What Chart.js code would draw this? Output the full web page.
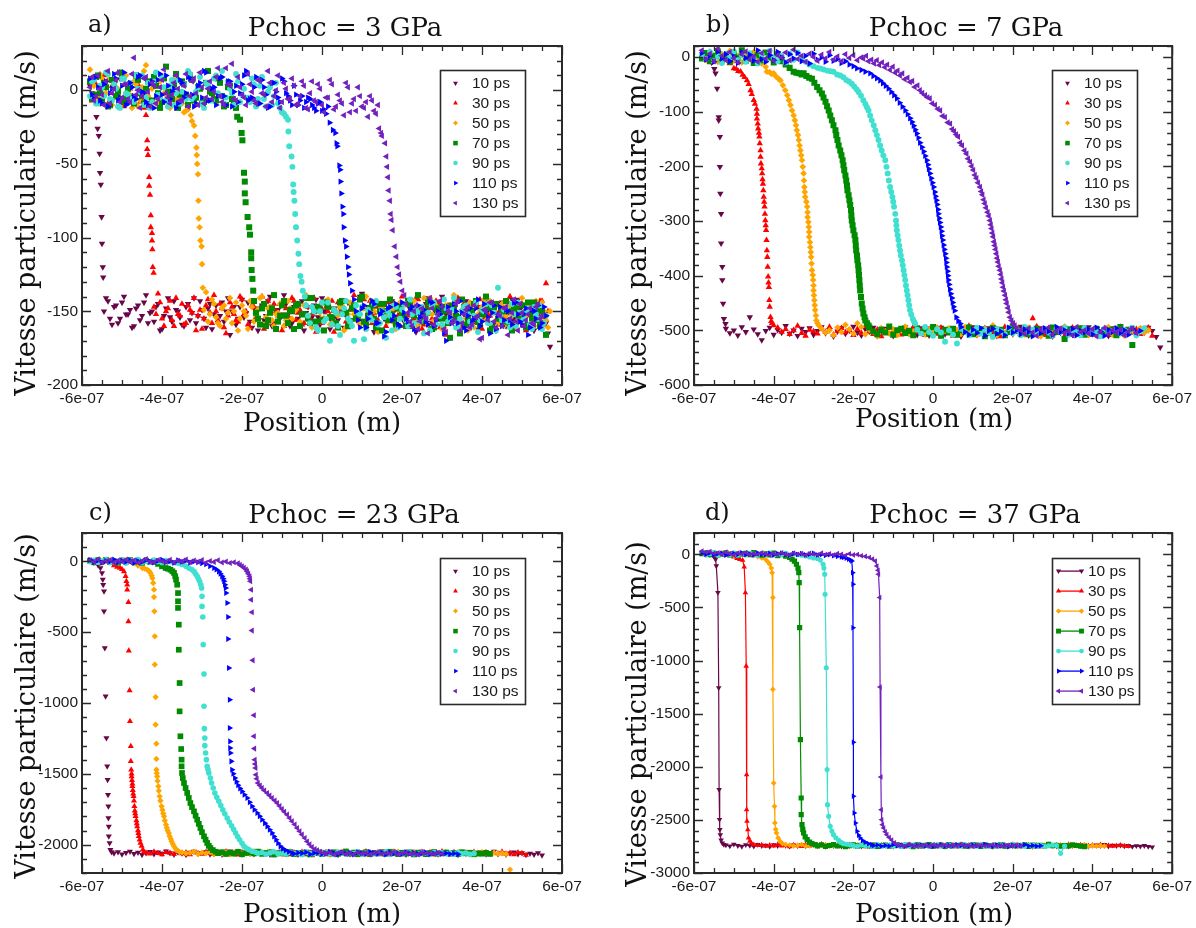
<!DOCTYPE html>
<html><head><meta charset="utf-8">
<script src="https://cdn.jsdelivr.net/npm/chart.js"></script>
<style>
html,body{margin:0;padding:0;background:#fff;}
#wrap{position:relative;width:1196px;height:928px;overflow:hidden;background:#fff;}
canvas{position:absolute;}
.t{position:absolute;font-family:"DejaVu Serif",serif;color:#111;white-space:nowrap;line-height:1;}
.tt{font-size:26px;transform:translateX(-50%);}
.lt{font-size:24px;}
.xt{font-size:26px;transform:translateX(-50%);}
.yt{font-size:27px;transform:translate(-50%,-50%) rotate(-90deg);}
</style></head><body><div id="wrap">
<canvas id="ca" width="598" height="464" style="left:0;top:0"></canvas>
<canvas id="cb" width="598" height="464" style="left:598px;top:0"></canvas>
<canvas id="cc" width="598" height="464" style="left:0;top:464px"></canvas>
<canvas id="cd" width="598" height="464" style="left:598px;top:464px"></canvas>
<div class="t lt" style="left:88px;top:12px">a)</div>
<div class="t tt" style="left:345px;top:14px">Pchoc = 3 GPa</div>
<div class="t lt" style="left:706px;top:12px">b)</div>
<div class="t tt" style="left:966px;top:14px">Pchoc = 7 GPa</div>
<div class="t lt" style="left:89px;top:500px">c)</div>
<div class="t tt" style="left:354px;top:501px">Pchoc = 23 GPa</div>
<div class="t lt" style="left:705px;top:500px">d)</div>
<div class="t tt" style="left:975px;top:501px">Pchoc = 37 GPa</div>
<div class="t xt" style="left:322px;top:409px">Position (m)</div>
<div class="t xt" style="left:934px;top:405px">Position (m)</div>
<div class="t xt" style="left:322px;top:900px">Position (m)</div>
<div class="t xt" style="left:934px;top:900px">Position (m)</div>
<div class="t yt" style="left:25px;top:223px">Vitesse particulaire (m/s)</div>
<div class="t yt" style="left:636px;top:223px">Vitesse particulaire (m/s)</div>
<div class="t yt" style="left:25px;top:706px">Vitesse particulaire (m/s)</div>
<div class="t yt" style="left:636px;top:714px">Vitesse particulaire (m/s)</div>
</div>
<script>
// ---------- common data ----------
const seriesLabels = ['10 ps','30 ps','50 ps','70 ps','90 ps','110 ps','130 ps'];
const xTickValues = [-600,-400,-200,0,200,400,600];           // position in nm
const xTickLabels = ['-6e-07','-4e-07','-2e-07','0','2e-07','4e-07','6e-07'];
const yTicksA = [-200,-150,-100,-50,0];
const yTicksB = [-600,-500,-400,-300,-200,-100,0];
const yTicksC = [-2000,-1500,-1000,-500,0];
const yTicksD = [-3000,-2500,-2000,-1500,-1000,-500,0];
// sampling positions (nm) of the flat parts of each profile
const gridX = [-580,-570,-560,-550,-540,-530,-520,-510,-500,-490,
-480,-470,-460,-450,-440,-430,-420,-410,-400,-390,
-380,-370,-360,-350,-340,-330,-320,-310,-300,-290,
-280,-270,-260,-250,-240,-230,-220,-210,-200,-190,
-180,-170,-160,-150,-140,-130,-120,-110,-100,-90,
-80,-70,-60,-50,-40,-30,-20,-10,0,10,
20,30,40,50,60,70,80,90,100,110,
120,130,140,150,160,170,180,190,200,210,
220,230,240,250,260,270,280,290,300,310,
320,330,340,350,360,370,380,390,400,410,
420,430,440,450,460,470,480,490,500,510,
520,530,540,550,560,570];
// second row of sampling positions (panel a is sampled twice as densely)
const gridXh = [-575,-565,-555,-545,-535,-525,-515,-505,-495,-485,
-475,-465,-455,-445,-435,-425,-415,-405,-395,-385,
-375,-365,-355,-345,-335,-325,-315,-305,-295,-285,
-275,-265,-255,-245,-235,-225,-215,-205,-195,-185,
-175,-165,-155,-145,-135,-125,-115,-105,-95,-85,
-75,-65,-55,-45,-35,-25,-15,-5,5,15,
25,35,45,55,65,75,85,95,105,115,
125,135,145,155,165,175,185,195,205,215,
225,235,245,255,265,275,285,295,305,315,
325,335,345,355,365,375,385,395,405,415,
425,435,445,455,465,475,485,495,505,515,
525,535,545,555,565,575];

// ---------- panel a (3 GPa) ----------
const a10U=[3,-6];
const a10FX=[-566,-564,-561,-558,-556,-555,-553,-551,-550,-548,-547];
const a10FY=[-8,-18,-26,-31,-43,-56,-64,-86,-104,-120,-127];
const a10L=[-141,-155,-147,-158,-144,-152,-149,-160,-146,-153,
-139,-151,-157,-145,-162,-148,-154,-143,-150,-159,
-147,-156,-141,-153,-149,-161,-145,-152,-158,-144,
-150,-166,-147,-155,-142,-151,-157,-148,-163,-146,
-153,-140,-158,-149,-152,-145,-160,-147,-155,-143,
-151,-158,-146,-154,-141,-150,-162,-148,-156,-144,
-153,-159,-147,-151,-138,-157,-149,-164,-145,-152,
-156,-143,-150,-160,-147,-154,-142,-158,-149,-153,
-145,-161,-148,-155,-140,-152,-157,-146,-159,-150,
-143,-156,-149,-162,-147,-153,-145,-158,-151,-144,
-160,-148,-155,-142,-157,-150,-146,-163,-152,-149,
-158,-174];
const a10U2=[-2];
const a10L2=[-150,-143,-159,-146,-155,-140,-152,-161,-148,-156,
-144,-158,-150,-147,-163,-153,-141,-157,-149,-154,
-160,-145,-151,-158,-143,-155,-148,-162,-146,-153,
-157,-141,-150,-159,-147,-154,-144,-161,-152,-148,
-156,-143,-160,-149,-155,-139,-152,-158,-146,-151,
-163,-147,-154,-142,-159,-150,-145,-157,-153,-148,
-161,-144,-156,-151,-140,-158,-147,-153,-162,-146,
-155,-149,-143,-160,-152,-157,-145,-150,-164,-148,
-154,-141,-158,-151,-146,-162,-149,-155,-143,-159,
-152,-147,-157,-144,-161,-150,-154,-148,-163,-145,
-156,-151,-142,-159,-149,-155,-146,-160,-153,-147,
-157,-165];
const a30U=[5,-4,9,-8,2,-11,6,-3,11,-7,1,-9,4,-6];
const a30FX=[-440,-437,-437,-435,-432,-432,-430,-428,-428,-425,-425,-424,-423,-421];
const a30FY=[-17,-34,-40,-44,-59,-65,-71,-85,-93,-97,-102,-108,-120,-124];
const a30L=[-147,-138,-155,-150,-143,-160,-152,-145,-158,-149,
-141,-153,-162,-146,-151,-139,-156,-148,-165,-144,
-152,-157,-142,-150,-161,-147,-154,-140,-158,-149,
-145,-153,-163,-148,-156,-143,-151,-159,-146,-155,
-141,-150,-158,-147,-153,-164,-144,-152,-157,-149,
-139,-155,-148,-161,-143,-151,-156,-146,-160,-150,
-145,-153,-140,-158,-149,-155,-142,-162,-147,-152,
-157,-144,-150,-166,-148,-154,-141,-159,-151,-145,
-156,-147,-162,-143,-153,-149,-158,-146,-155,-140,
-150,-157,-145,-163,-152,-148,-156,-143,-131];
const a30U2=[-7,4,-2,10,-9,3,-5,8,-11,2,-4,7,-8,-12];
const a30L2=[-152,-144,-160,-148,-156,-141,-153,-159,-146,-151,
-163,-149,-155,-142,-158,-150,-145,-161,-153,-147,
-156,-140,-152,-159,-146,-154,-148,-162,-143,-157,
-150,-145,-160,-153,-141,-156,-149,-158,-147,-152,
-164,-146,-155,-150,-143,-159,-152,-148,-161,-145,
-154,-157,-142,-151,-158,-147,-163,-150,-144,-155,
-149,-160,-146,-153,-157,-141,-152,-159,-148,-155,
-143,-161,-150,-146,-156,-152,-160,-145,-153,-149,
-158,-142,-155,-151,-147,-162,-149,-154,-144,-157,
-151,-146,-160,-153,-148,-156,-143,-159,-150];
const a50U=[14,3,-5,8,-2,-9,5,1,-7,10,-4,6,-11,2,17,-6,4,-8,9,-3,-12,7,-5,-9,-14];
const a50FX=[-328,-325,-320,-317,-314,-313,-312,-310,-309,-308,-306,-304,-301,-300,-298];
const a50FY=[-17,-21,-24,-31,-39,-44,-50,-57,-75,-87,-93,-102,-106,-118,-134];
const a50L=[-137,-152,-145,-158,-148,-155,-141,-150,-163,-146,
-153,-143,-157,-149,-140,-154,-147,-160,-151,-144,
-156,-148,-162,-145,-152,-139,-158,-150,-147,-155,
-143,-159,-149,-153,-146,-161,-144,-152,-157,-148,
-140,-155,-150,-164,-147,-153,-142,-158,-149,-145,
-157,-151,-143,-160,-148,-154,-141,-156,-150,-162,
-146,-153,-139,-158,-149,-155,-144,-161,-152,-147,
-156,-143,-150,-159,-145,-153,-148,-162,-151,-141,
-154,-147,-160,-149,-144,-156,-150];
const a50U2=[5,-8,11,-3,7,-10,2,-6,9,-1,-12,4,-7,13,-4,1,-9,6,-2,-11,3,-7,-10,-15,-13];
const a50L2=[-149,-157,-142,-154,-160,-146,-151,-158,-144,-155,
-150,-162,-147,-153,-141,-159,-148,-156,-152,-145,
-160,-143,-155,-149,-157,-146,-153,-161,-148,-151,
-156,-142,-158,-150,-147,-163,-152,-145,-154,-159,
-148,-155,-143,-160,-151,-146,-157,-149,-162,-144,
-153,-158,-147,-150,-156,-141,-159,-152,-146,-155,
-161,-148,-153,-144,-157,-150,-163,-146,-154,-149,
-142,-158,-151,-156,-147,-160,-145,-153,-149,-157,
-152,-146,-159,-143,-155,-150,-161];
const a70U=[6,-3,10,-7,2,-10,5,-1,8,-6,3,-9,7,-4,1,-11,9,-2,-8,16,-5,4,-12,6,-3,10,-7,2,-9,5,-1,-6,8,-4,-10,3,-8];
const a70FX=[-212,-205,-201,-199,-195,-193,-193,-191,-186,-182,-180,-177,-177,-176,-174,-172];
const a70FY=[-18,-20,-29,-34,-56,-62,-70,-76,-86,-93,-98,-110,-114,-122,-128,-136];
const a70L=[-143,-155,-148,-160,-151,-139,-157,-146,-153,-149,
-162,-145,-152,-141,-158,-150,-147,-156,-144,-154,
-149,-161,-143,-151,-157,-146,-153,-140,-159,-148,
-155,-145,-163,-150,-142,-156,-148,-152,-160,-146,
-153,-139,-157,-149,-144,-161,-151,-147,-155,-168,
-148,-154,-142,-159,-150,-145,-157,-152,-140,-163,
-147,-155,-150,-143,-158,-149,-153,-146,-161,-151,
-144,-156,-150,-166];
const a70U2=[-6,9,-2,5,-11,7,-4,12,-8,1,-5,10,-2,-9,6,-7,3,-12,8,-1,-6,11,-3,4,-10,7,-5,1,-8,13,-2,-7,5,-11,2,-6,-12];
const a70L2=[-151,-159,-145,-156,-148,-162,-153,-143,-158,-150,
-146,-160,-152,-155,-141,-157,-149,-163,-147,-154,
-158,-144,-151,-160,-148,-155,-142,-157,-153,-146,
-161,-150,-145,-156,-152,-159,-147,-154,-143,-160,
-149,-156,-151,-144,-162,-148,-155,-150,-158,-146,
-153,-165,-147,-156,-150,-143,-159,-152,-148,-161,
-145,-154,-157,-150,-163,-147,-152,-158,-144,-155,
-149,-160,-153];
const a90U=[-4,7,-9,2,12,-6,4,-11,8,-2,5,-8,1,10,-5,-12,6,-3,9,-7,3,-10,7,-1,-6,11,-4,2,-9,5,-7,8,-2,13,-5,1,-10,6,-3,11,-8,4,-6,9,-11,2,-4,-9,-15,-18];
const a90FX=[-84,-82,-76,-74,-72,-71,-69,-67,-65,-62,-59,-57,-54,-51,-48,-43];
const a90FY=[-28,-38,-45,-52,-64,-69,-75,-84,-93,-102,-111,-118,-126,-130,-136,-140];
const a90L=[-146,-158,-150,-163,-144,-155,-170,-149,-160,-152,
-143,-157,-170,-151,-147,-162,-154,-145,-159,-150,
-168,-153,-146,-161,-149,-156,-142,-158,-151,-147,
-155,-163,-144,-152,-159,-148,-154,-141,-160,-150,
-146,-157,-153,-164,-149,-145,-158,-151,-134,-156,
-148,-161,-152,-144,-157,-150,-159,-147,-155,-162,
-153];
const a90U2=[6,-9,3,-4,11,-7,1,-12,8,-3,
-6,10,-1,-10,5,-8,12,-5,2,-11,
7,-2,-9,4,13,-6,-1,9,-12,3,
-7,10,-4,-9,6,-2,11,-8,1,-5,
8,-11,3,-6,-1,-10,5,-12,-16,-20];
const a90L2=[-153,-147,-161,-150,-157,-144,-159,-151,-166,-148,
-155,-160,-146,-152,-169,-149,-156,-143,-158,-154,
-150,-163,-147,-155,-145,-160,-152,-148,-157,-165,
-151,-146,-159,-153,-142,-157,-149,-161,-155,-147,
-152,-160,-144,-156,-150,-158,-146,-163,-153,-149,
-157,-145,-160,-151,-155,-148,-162,-152,-146,-158];
const a110U=[8,-5,2,-9,6,-2,11,-7,3,-10,5,-4,9,-1,-8,4,-12,7,-3,10,-6,1,-9,5,-2,8,-11,3,-5,12,-7,2,-4,9,-10,6,-1,-8,4,13,-6,2,-9,7,-3,-11,5,-5,8,-2,-7,3,-10,-4,-8,-6,-12,-9,-14,-16];
const a110FX=[19,27,33,36,38,43,45,46,48,51,53,54,57,60,62,65,67,70,75];
const a110FY=[-22,-27,-29,-36,-38,-51,-54,-62,-70,-79,-84,-93,-102,-106,-113,-120,-125,-131,-136];
const a110L=[-142,-156,-148,-161,-151,-145,-158,-150,-164,-147,
-153,-159,-144,-155,-149,-162,-146,-152,-157,-143,
-160,-150,-147,-170,-154,-145,-158,-151,-163,-148,
-155,-142,-157,-150,-165,-146,-153,-160,-149,-156,
-144,-152,-159,-148,-161,-150,-146,-158,-153];
const a110U2=[-3,9,-7,4,-11,1,8,-5,12,-9,
2,-6,10,-2,-10,6,-4,11,-8,3,
-1,-12,7,-5,9,-3,-9,5,13,-7,
1,-10,8,-4,6,-11,3,-2,10,-7,
-5,9,-9,2,-12,5,-1,-8,6,-4,
-10,-3,-7,-12,-5,-10,-14,-8,-13,-11];
const a110L2=[-150,-161,-146,-155,-143,-158,-152,-167,-148,-156,
-145,-160,-151,-157,-147,-163,-154,-149,-159,-144,
-156,-152,-165,-147,-158,-150,-143,-161,-153,-157,
-148,-160,-145,-154,-151,-162,-147,-156,-150,-159,
-144,-157,-152,-166,-149,-155,-161,-147];
const a130U=[2,-7,10,-3,6,-9,1,12,-5,4,
-8,22,0,-4,9,-11,3,-6,7,-2,
-9,5,1,-7,11,-4,8,-10,2,-5,
6,-1,15,-8,15,3,-6,9,-3,-10,
4,-7,7,-2,-11,5,-4,10,-8,1,
-6,3,-9,6,-12,-2,-7,4,-10,-5,
7,-13,-3,-9,5,-15,-6,2,-11,-8,
-4,-14,-10];
const a130FX=[143,148,150,158,161,163,165,167,170,172,174,177,182,186,189,193,196,201,206];
const a130FY=[-26,-29,-31,-36,-45,-52,-59,-68,-75,-84,-88,-95,-106,-113,-120,-125,-130,-136,-139];
const a130L=[-145,-157,-150,-162,-148,-155,-141,-159,-152,-147,
-164,-151,-156,-143,-158,-149,-161,-146,-153,-168,
-150,-144,-157,-152,-160,-147,-155,-142,-163,-151,
-156,-148,-159,-145,-153];
const a130U2=[9,-4,1,-10,13,-2,7,-8,4,-6,
11,-3,-12,8,-1,5,-9,2,14,-5,
-3,10,-7,3,-11,6,-2,12,-9,1,
-6,9,-4,-10,4,18,-7,2,-5,11,
-1,-9,6,-3,13,-8,0,-12,5,-6,
8,-10,-4,3,-13,6,-8,1,-15,-5,
4,-11,-7,-17,2,-9,-14,-4,-12,-18,
-7,-16];
const a130L2=[-151,-160,-146,-157,-153,-165,-148,-155,-143,-162,
-150,-158,-145,-163,-152,-147,-159,-154,-169,-149,
-156,-144,-161,-153,-148,-166,-151,-157,-145,-160,
-152,-158,-147,-155];

// ---------- panel b (7 GPa) ----------
const b10U=[5,-4,-6];
const b10FX=[-556,-549,-546,-542,-538,-538,-535,-535,-534,-532,-532,-529,-529,-527,-525,-521];
const b10FY=[-10,-22,-30,-58,-110,-116,-146,-201,-250,-287,-341,-384,-408,-451,-479,-488];
const b10L=[-497,-505,-500,-509,-494,-503,-476,-498,-507,-518,
-501,-495,-508,-499,-504,-492,-506,-500,-510,-497,
-503,-496,-508,-501,-494,-505,-499,-511,-502,-496,
-506,-500,-493,-504,-509,-498,-502,-495,-507,-501,
-497,-505,-510,-499,-503,-494,-506,-500,-508,-496,
-502,-509,-498,-504,-495,-507,-501,-497,-505,-511,
-499,-503,-494,-508,-500,-506,-496,-502,-510,-498,
-504,-497,-507,-501,-493,-505,-509,-499,-503,-496,
-506,-500,-511,-498,-504,-495,-502,-508,-497,-503,
-500,-494,-507,-501,-505,-498,-510,-496,-503,-499,
-505,-497,-502,-508,-499,-504,-495,-501,-512,-531];
const b30U=[6,-2,9,-5,1,-8,3,-12];
const b30FX=[-500,-494,-489,-483,-478,-473,-467,-463,-458,-455,-450,-447,-443,-442,-442,-440,-439,-437,-436,-435,
-433,-433,-432,-430,-429,-428,-427,-426,-425,-424,-423,-422,-421,-420,-419,-418,-417,-416,-415,-414,
-413,-412,-411,-410,-408,-406,-404,-400];
const b30FY=[-21,-22,-26,-27,-33,-37,-43,-50,-61,-68,-79,-86,-95,-104,-113,-122,-131,-139,-146,-158,
-171,-183,-195,-204,-213,-224,-232,-244,-256,-265,-274,-287,-299,-308,-317,-335,-354,-366,-384,-402,
-413,-421,-445,-457,-476,-483,-487,-491];
const b30L=[-495,-503,-498,-507,-500,-492,-505,-510,-499,-502,
-506,-497,-503,-494,-508,-501,-496,-504,-500,-509,
-498,-505,-493,-502,-507,-499,-511,-503,-496,-504,
-501,-508,-497,-505,-494,-503,-500,-509,-498,-502,
-506,-495,-504,-499,-510,-501,-497,-505,-492,-503,
-508,-500,-496,-506,-502,-498,-511,-494,-504,-500,
-497,-507,-503,-499,-478,-493,-501,-509,-496,-502,
-504,-498,-510,-500,-495,-506,-502,-497,-508,-508,
-501,-505,-496,-503,-509,-499,-494,-506,-500,-504,
-498,-507,-502,-495,-510];
const b50U=[3,-6,8,-1,-9,5,-3,11,-7,2,-10,6,-4,9,-2,-12,-18];
const b50FX=[-417,-410,-405,-400,-394,-388,-383,-377,-371,-366,-362,-358,-354,-350,-347,-344,-342,-339,-337,-335,
-333,-331,-329,-327,-325,-324,-323,-322,-321,-318,-316,-315,-315,-313,-312,-311,-311,-309,-308,-307,
-306,-305,-304,-302,-301,-300,-300,-299,-298,-297,-296,-294,-293,-290,-287];
const b50FY=[-27,-28,-31,-30,-36,-40,-43,-52,-61,-70,-79,-88,-98,-107,-116,-125,-134,-143,-152,-162,
-171,-180,-189,-201,-213,-226,-238,-247,-256,-265,-274,-284,-293,-302,-311,-320,-329,-339,-348,-357,
-366,-378,-390,-399,-408,-418,-427,-436,-445,-454,-463,-473,-482,-487,-491];
const b50L=[-497,-504,-500,-509,-495,-503,-490,-498,-506,-487,
-494,-507,-499,-503,-511,-496,-502,-505,-498,-509,
-500,-493,-506,-502,-497,-504,-508,-499,-503,-495,
-510,-501,-496,-505,-499,-507,-494,-502,-500,-508,
-503,-497,-505,-491,-509,-500,-504,-496,-506,-499,
-502,-508,-495,-503,-498,-511,-500,-505,-497,-504,
-499,-493,-507,-501,-506,-496,-503,-509,-498,-502,
-505,-500,-494,-508,-497,-503,-510,-499,-501,-506,
-496,-504,-500];
const b70U=[-3,7,-8,2,10,-5,1,-9,6,-2,12,-7,4,-11,3,-6,8,-1,-10,5,-8,-14,-20];
const b70FX=[-350,-343,-336,-330,-325,-318,-311,-304,-298,-291,-285,-279,-275,-270,-266,-262,-258,-254,-250,-245,
-243,-240,-237,-233,-230,-227,-225,-223,-220,-218,-216,-215,-212,-210,-208,-206,-205,-204,-202,-200,
-197,-195,-194,-193,-191,-190,-188,-187,-186,-185,-184,-183,-181,-179,-177,-175,-172,-170,-166,-162];
const b70FY=[-27,-29,-30,-32,-30,-35,-38,-40,-47,-55,-61,-67,-74,-82,-90,-98,-107,-116,-125,-134,
-143,-152,-162,-171,-180,-189,-198,-207,-217,-226,-235,-244,-253,-262,-271,-280,-290,-299,-308,-317,
-326,-335,-345,-354,-363,-372,-381,-390,-399,-408,-418,-427,-439,-451,-460,-469,-476,-482,-487,-491];
const b70L=[-495,-502,-507,-499,-504,-493,-508,-500,-497,-505,
-501,-509,-496,-503,-498,-506,-494,-502,-510,-499,
-504,-497,-508,-500,-503,-495,-507,-501,-498,-511,
-502,-496,-505,-499,-509,-503,-494,-500,-506,-498,
-507,-501,-497,-504,-500,-510,-495,-503,-499,-516,
-498,-505,-502,-496,-508,-500,-504,-497,-506,-501,
-503,-499,-509,-494,-502,-500,-527];
const b90U=[5,-4,9,-8,1,-11,6,-2,10,-6,3,-9,7,-3,-12,4,-7,11,-1,-8,2,-10,6,-5,8,-3,-9,-14,-17,-20];
const b90FX=[-283,-275,-266,-258,-250,-241,-233,-225,-218,-211,-204,-198,-192,-187,-181,-175,-170,-166,-162,-158,
-154,-149,-145,-141,-137,-133,-129,-125,-120,-117,-114,-111,-108,-105,-102,-100,-98,-95,-93,-92,
-91,-89,-87,-85,-83,-81,-78,-76,-74,-72,-70,-68,-66,-64,-62,-60,-58,-55,-51,-48,-45];
const b90FY=[-21,-23,-25,-26,-27,-32,-34,-37,-42,-45,-49,-54,-59,-64,-71,-79,-86,-92,-98,-107,
-116,-125,-134,-143,-152,-162,-171,-180,-189,-201,-213,-226,-238,-247,-256,-265,-274,-287,-299,-308,
-317,-326,-335,-345,-354,-363,-372,-381,-390,-399,-408,-418,-427,-436,-445,-454,-463,-471,-479,-484,-488];
const b90L=[-499,-506,-494,-503,-510,-498,-504,-521,-500,-508,
-524,-497,-503,-509,-501,-495,-506,-499,-504,-512,
-498,-502,-507,-496,-505,-500,-509,-494,-503,-499,
-506,-501,-497,-504,-510,-498,-503,-495,-508,-500,
-502,-509,-496,-505,-499,-503,-511,-497,-504,-501,
-498,-506,-500,-503,-495,-509,-502,-496];
const b110U=[7,-5,2,-9,10,-3,5,-8,1,-11,8,-2,4,-7,12,-4,-9,3,-6,9,-1,-10,5,-3,7,-8,2,-12,6,-5,-1,-9,3,-7,-4,-11,-8,-14,-17];
const b110FX=[-191,-180,-170,-158,-150,-141,-133,-126,-119,-112,-105,-98,-91,-84,-77,-70,-64,-58,-53,-49,
-45,-41,-37,-33,-28,-24,-20,-16,-13,-11,-8,-5,-2,1,4,6,8,10,12,13,
15,17,19,21,22,24,26,28,30,32,33,34,36,37,38,40,42,44,47,49,51,54,58,63,68];
const b110FY=[-21,-24,-27,-30,-35,-39,-43,-48,-53,-58,-64,-70,-76,-84,-91,-98,-105,-112,-119,-126,
-133,-140,-148,-157,-165,-173,-181,-189,-197,-205,-213,-222,-230,-238,-247,-255,-262,-270,-279,-287,
-295,-303,-311,-319,-327,-335,-344,-352,-360,-368,-376,-384,-392,-400,-408,-416,-425,-433,-441,-449,-457,-464,-476,-483,-488];
const b110L=[-494,-503,-508,-499,-505,-496,-510,-501,-497,-506,
-502,-509,-495,-504,-500,-507,-498,-503,-511,-499,
-505,-496,-502,-508,-494,-503,-500,-506,-497,-509,
-501,-504,-498,-507,-495,-502,-510,-499,-503,-496,
-505,-500,-508,-497,-503,-501];
const b130U=[12,-4,6,-8,15,2,-6,9,-2,-10,5,10,-5,1,-9,7,-3,11,-7,3,-1,8,-6,13,-4,2,-9,6,0,-7,4,-3,9,-5,1,-8,5,-2,3,-6,-1];
const b130FX=[-175,-168,-162,-155,-148,-141,-135,-128,-121,-115,-108,-101,-95,-89,-83,-77,-71,-64,-58,-52,
-46,-39,-33,-27,-20,-14,-8,-2,5,12,18,24,30,37,43,48,53,58,63,68,
73,79,84,88,93,97,101,105,109,113,118,121,124,127,130,133,137,140,143,145,
147,149,151,153,155,157,159,161,163,165,168,170,172,174,176,178,181,183,185,188,
190,193,197,201,205,210];
const b130FY=[-3,2,-8,-5,-12,-6,-15,-10,-19,-14,-24,-18,-29,-25,-34,-30,-41,-38,-46,-44,
-55,-52,-61,-66,-70,-74,-76,-85,-88,-95,-98,-108,-110,-120,-122,-132,-136,-142,-146,-157,
-162,-171,-177,-186,-192,-200,-207,-216,-222,-230,-238,-246,-252,-261,-268,-276,-284,-291,-299,-307,
-314,-322,-329,-338,-345,-352,-360,-368,-375,-383,-390,-398,-406,-413,-421,-428,-436,-444,-451,-459,
-467,-476,-482,-487,-491,-496];
const b130L=[-500,-507,-496,-504,-510,-499,-503,-495,-508,-501,
-497,-505,-502,-509,-494,-503,-500,-506,-498,-511,
-503,-496,-507,-500,-504,-499,-509,-502,-497,-505];

// ---------- panel c (23 GPa) ----------
const c10U=[5,-8,-25];
const c10FX=[-554,-550,-548,-547,-545,-545,-543,-541,-539,-537,-536,-535,-534,-534,-533,-533,-531,-529,-526];
const c10FY=[-47,-82,-129,-165,-212,-353,-612,-953,-1247,-1447,-1541,-1647,-1729,-1812,-1871,-1941,-1988,-2035,-2052];
const c10L=[-2061,-2052,-2068,-2057,-2049,-2064,-2055,-2071,-2059,-2050,
-2066,-2054,-2062,-2047,-2058,-2069,-2053,-2060,-2072,-2056,
-2049,-2063,-2057,-2051,-2067,-2060,-2054,-2070,-2058,-2046,
-2062,-2055,-2068,-2059,-2052,-2065,-2057,-2050,-2063,-2070,
-2056,-2061,-2048,-2066,-2058,-2053,-2069,-2055,-2062,-2051,
-2067,-2059,-2054,-2063,-2049,-2060,-2071,-2057,-2052,-2065,
-2058,-2050,-2064,-2056,-2068,-2053,-2061,-2047,-2059,-2066,
-2054,-2062,-2057,-2070,-2051,-2063,-2058,-2049,-2065,-2060,
-2055,-2068,-2061,-2052,-2064,-2057,-2071,-2050,-2062,-2056,
-2063,-2058,-2053,-2067,-2060,-2048,-2065,-2057,-2069,-2061,
-2054,-2066,-2059,-2072,-2063,-2070,-2058,-2075];
const c30U=[6,-4,10,-7,2,-12,-30];
const c30FX=[-512,-505,-500,-495,-491,-489,-487,-487,-484,-484,-483,-481,-480,-478,-478,-477,-476,-476,-475,-474,
-474,-473,-472,-471,-470,-469,-468,-467,-466,-464,-463,-462,-460,-459,-458,-456,-454,-451,-448,-445];
const c30FY=[-40,-47,-55,-71,-106,-141,-165,-200,-289,-424,-631,-911,-1129,-1306,-1412,-1471,-1500,-1518,-1545,-1570,
-1588,-1615,-1640,-1659,-1690,-1729,-1760,-1780,-1800,-1830,-1850,-1871,-1900,-1920,-1941,-1965,-1988,-2010,-2035,-2050];
const c30L=[-2057,-2064,-2050,-2061,-2069,-2054,-2059,-2066,-2048,-2062,
-2056,-2070,-2053,-2060,-2065,-2051,-2058,-2067,-2055,-2063,
-2049,-2061,-2057,-2072,-2054,-2064,-2059,-2050,-2068,-2056,
-2062,-2053,-2066,-2058,-2047,-2060,-2069,-2055,-2063,-2052,
-2065,-2057,-2061,-2050,-2067,-2054,-2059,-2071,-2056,-2063,
-2051,-2060,-2068,-2055,-2062,-2048,-2058,-2066,-2053,-2061,
-2057,-2064,-2050,-2069,-2059,-2054,-2063,-2056,-2070,-2052,
-2060,-2067,-2055,-2062,-2049,-2058,-2065,-2053,-2061,-2068,
-2056,-2063,-2051,-2059,-2066,-2054,-2070,-2057,-2062,-2050,
-2064,-2058,-2069,-2055,-2061,-2073];
const c50U=[9,-3,5,-10,2,7,-6,-1,11,-8,3,-15,-30];
const c50FX=[-449,-443,-437,-432,-429,-426,-424,-422,-420,-420,-419,-418,-418,-416,-416,-414,-414,-414,-413,-412,
-411,-409,-408,-406,-404,-401,-399,-397,-395,-393,-390,-388,-386,-383,-381,-378,-376,-373,-370,-366,-362,-356];
const c50FY=[-47,-52,-59,-70,-82,-100,-118,-153,-200,-252,-353,-529,-729,-958,-1153,-1287,-1395,-1471,-1495,-1518,
-1550,-1588,-1620,-1659,-1690,-1729,-1755,-1780,-1800,-1830,-1859,-1880,-1900,-1918,-1940,-1960,-1977,-1995,-2012,-2028,-2040,-2052];
const c50L=[-2054,-2062,-2058,-2049,-2066,-2056,-2061,-2052,-2068,-2059,
-2063,-2055,-2070,-2057,-2050,-2064,-2059,-2067,-2053,-2060,
-2057,-2065,-2051,-2062,-2058,-2069,-2055,-2048,-2063,-2056,
-2061,-2054,-2067,-2059,-2052,-2064,-2058,-2071,-2056,-2062,
-2050,-2066,-2060,-2055,-2063,-2057,-2068,-2053,-2061,-2059,
-2065,-2052,-2058,-2062,-2049,-2067,-2056,-2060,-2054,-2064,
-2058,-2063,-2051,-2069,-2057,-2061,-2055,-2066,-2059,-2053,
-2062,-2056,-2070,-2058,-2064,-2052,-2060,-2067,-2057,-2063,
-2059,-2066,-2176];
const c70U=[4,-7,8,-2,11,-5,1,-9,6,-3,9,-6,2,-11,5,-4,-1,-18,-35];
const c70FX=[-391,-385,-379,-374,-370,-367,-365,-362,-360,-360,-360,-358,-358,-356,-356,-354,-352,-351,-351,-350,
-348,-345,-341,-337,-333,-329,-325,-320,-316,-312,-308,-304,-300,-295,-291,-287,-283,-279,-273,-266];
const c70FY=[-47,-52,-59,-70,-82,-105,-129,-165,-224,-282,-329,-447,-624,-859,-1059,-1235,-1325,-1400,-1447,-1494,
-1530,-1565,-1600,-1635,-1670,-1706,-1735,-1765,-1795,-1824,-1853,-1882,-1912,-1941,-1965,-1988,-2008,-2024,-2038,-2050];
const c70L=[-2060,-2053,-2066,-2057,-2063,-2050,-2068,-2058,-2055,-2062,
-2049,-2065,-2059,-2054,-2070,-2061,-2056,-2064,-2052,-2067,
-2058,-2063,-2055,-2069,-2060,-2051,-2066,-2057,-2062,-2054,
-2065,-2059,-2048,-2063,-2056,-2068,-2061,-2053,-2067,-2058,
-2062,-2055,-2064,-2050,-2059,-2066,-2057,-2063,-2054,-2069,
-2056,-2061,-2067,-2058,-2052,-2064,-2060,-2055,-2063,-2059,
-2066,-2053,-2061,-2057,-2068,-2062,-2064,-2058,-2065];
const c90U=[-3,8,-6,1,10,-9,4,-2,7,-11,5,-4,12,-7,2,-5,9,-1,-8,6,-3,-10,-14,-22,-35];
const c90FX=[-333,-326,-320,-316,-312,-309,-306,-303,-301,-300,-300,-298,-297,-295,-295,-294,-293,-293,-291,-289,
-287,-285,-283,-279,-276,-272,-268,-263,-258,-253,-248,-243,-237,-232,-226,-221,-216,-211,-206,-200,
-195,-189,-183,-175,-166];
const c90FY=[-47,-58,-71,-88,-106,-123,-141,-165,-188,-247,-318,-393,-588,-795,-1023,-1181,-1247,-1301,-1353,-1400,
-1447,-1470,-1494,-1530,-1565,-1600,-1635,-1665,-1694,-1723,-1753,-1782,-1812,-1840,-1866,-1892,-1918,-1942,-1965,-1990,
-2012,-2025,-2035,-2046,-2054];
const c90L=[-2061,-2055,-2068,-2058,-2050,-2064,-2059,-2066,-2053,-2062,
-2057,-2070,-2054,-2063,-2060,-2048,-2065,-2056,-2062,-2069,
-2053,-2059,-2066,-2057,-2063,-2051,-2068,-2060,-2055,-2064,
-2058,-2062,-2050,-2067,-2056,-2061,-2065,-2054,-2059,-2063,
-2066,-2057,-2060,-2069,-2055,-2062,-2058,-2064,-2061,-2067,
-2056,-2063,-2059,-2068,-2062];
const c110U=[10,-4,6,-9,3,-1,12,-7,5,-3,8,-11,2,-5,9,-2,-8,4,11,-6,1,-10,7,-3,5,-9,-1,-6,-13,-20,-35];
const c110FX=[-270,-264,-258,-254,-250,-247,-245,-243,-241,-240,-237,-235,-235,-233,-231,-231,-230,-230,-229,-227,
-225,-222,-218,-214,-210,-205,-200,-194,-187,-181,-175,-169,-162,-156,-150,-143,-137,-131,-125,-120,
-115,-110,-104,-98,-91,-83,-75];
const c110FY=[-47,-58,-71,-88,-106,-123,-141,-165,-188,-224,-294,-393,-548,-753,-977,-1176,-1271,-1318,-1353,-1412,
-1471,-1500,-1530,-1555,-1580,-1603,-1624,-1648,-1671,-1700,-1729,-1753,-1777,-1800,-1824,-1848,-1871,-1895,-1918,-1942,
-1965,-1990,-2012,-2028,-2040,-2050,-2059];
const c110L=[-2064,-2057,-2061,-2053,-2068,-2059,-2055,-2066,-2062,-2050,
-2060,-2067,-2056,-2063,-2058,-2070,-2054,-2061,-2065,-2052,
-2059,-2064,-2057,-2069,-2055,-2062,-2060,-2066,-2053,-2063,
-2058,-2065,-2061,-2056,-2067,-2062,-2059,-2064,-2060,-2066,
-2063,-2068];
const c130U=[8,-3,14,-6,2,10,-9,5,-1,12,-4,7,-10,3,16,-2,-7,9,1,-5,11,-8,4,-1,13,-6,6,-3,9,-10,2,-4,7,-8,-2,-12,-6,-14];
const c130FX=[-205,-200,-195,-190,-187,-184,-181,-180,-179,-177,-177,-175,-175,-173,-172,-170,-170,-169,-168,-167,
-166,-165,-163,-160,-155,-150,-144,-137,-131,-125,-118,-112,-106,-100,-94,-87,-81,-75,-68,-62,
-56,-50,-43,-37,-31,-25,-18,-12,-4,4];
const c130FY=[-25,-35,-45,-58,-71,-88,-106,-123,-141,-200,-271,-360,-489,-699,-906,-1087,-1235,-1322,-1400,-1430,
-1459,-1506,-1535,-1565,-1583,-1600,-1618,-1635,-1653,-1671,-1688,-1706,-1727,-1748,-1768,-1788,-1812,-1835,-1858,-1882,
-1905,-1929,-1953,-1977,-1998,-2017,-2030,-2040,-2050,-2059];
const c130L=[-2062,-2056,-2069,-2059,-2053,-2065,-2060,-2067,-2055,-2063,
-2058,-2070,-2061,-2054,-2066,-2059,-2064,-2052,-2068,-2060,
-2057,-2065,-2062,-2069,-2056,-2063,-2060,-2066,-2058,-2064];

// ---------- panel d (37 GPa) ----------
const d10U=[12,4,-6];
const d10FX=[-552,-548,-546,-544,-540,-538,-537,-536,-535,-534,-532,-529,-525];
const d10FY=[-12,-30,-47,-110,-361,-1257,-2215,-2498,-2592,-2640,-2690,-2718,-2733];
const d10L=[-2738,-2746,-2731,-2743,-2750,-2735,-2741,-2748,-2733,-2744,
-2739,-2752,-2736,-2745,-2730,-2742,-2749,-2737,-2744,-2734,
-2747,-2740,-2732,-2746,-2738,-2751,-2735,-2743,-2739,-2748,
-2734,-2745,-2741,-2736,-2749,-2731,-2744,-2740,-2747,-2737,
-2742,-2735,-2750,-2738,-2745,-2733,-2741,-2748,-2736,-2743,
-2739,-2746,-2732,-2744,-2737,-2752,-2740,-2734,-2747,-2742,
-2736,-2749,-2743,-2731,-2745,-2738,-2741,-2750,-2735,-2744,
-2740,-2733,-2747,-2739,-2746,-2742,-2734,-2751,-2737,-2745,
-2743,-2738,-2732,-2748,-2741,-2736,-2749,-2744,-2739,-2746,
-2735,-2750,-2742,-2737,-2745,-2733,-2748,-2740,-2744,-2739,
-2747,-2741,-2752,-2744,-2749,-2743,-2751,-2756];
const d30U=[10,-2,15,3,-8,6,-4,-12,-25];
const d30FX=[-492,-485,-478,-474,-471,-469,-468,-468,-467,-465,-463,-460,-456,-450];
const d30FY=[-40,-48,-55,-120,-361,-1052,-2074,-2404,-2513,-2592,-2670,-2700,-2718,-2733];
const d30L=[-2741,-2735,-2748,-2739,-2744,-2732,-2746,-2740,-2751,-2737,
-2743,-2749,-2734,-2745,-2738,-2742,-2730,-2747,-2741,-2736,
-2750,-2739,-2744,-2733,-2746,-2740,-2737,-2752,-2743,-2735,
-2745,-2738,-2748,-2741,-2731,-2744,-2739,-2747,-2734,-2742,
-2736,-2749,-2743,-2738,-2751,-2740,-2733,-2746,-2742,-2737,
-2744,-2732,-2747,-2739,-2745,-2741,-2750,-2735,-2743,-2738,
-2748,-2742,-2736,-2745,-2733,-2749,-2740,-2744,-2737,-2746,
-2739,-2751,-2743,-2734,-2747,-2738,-2742,-2745,-2731,-2748,
-2741,-2736,-2749,-2744,-2739,-2746,-2733,-2743,-2740,-2747,
-2742,-2738,-2745,-2750];
const d50U=[7,-5,11,0,-9,14,-3,5,-11,8,-1,-7,3,-14,-22,-35];
const d50FX=[-421,-415,-410,-406,-404,-402,-402,-400,-398,-397,-395,-393,-389,-384,-378,-370];
const d50FY=[-47,-70,-94,-130,-173,-408,-1272,-2153,-2372,-2529,-2590,-2623,-2670,-2700,-2724,-2733];
const d50L=[-2737,-2745,-2740,-2732,-2748,-2743,-2736,-2750,-2741,-2734,
-2746,-2739,-2744,-2731,-2742,-2749,-2735,-2743,-2738,-2747,
-2740,-2733,-2751,-2745,-2737,-2742,-2748,-2736,-2744,-2739,
-2746,-2741,-2734,-2749,-2743,-2738,-2745,-2732,-2747,-2740,
-2735,-2744,-2750,-2739,-2742,-2737,-2748,-2741,-2733,-2746,
-2743,-2736,-2745,-2740,-2752,-2738,-2744,-2731,-2747,-2742,
-2739,-2748,-2734,-2746,-2741,-2737,-2750,-2743,-2736,-2745,
-2741,-2747,-2738,-2744,-2733,-2749,-2740,-2746,-2742,-2748];
const d70U=[5,14,-3,9,-7,2,12,-5,6,-10,1,8,-4,15,-2,-8,4,-6,10,-12,-3,-18,-30];
const d70FX=[-354,-348,-343,-339,-337,-336,-335,-333,-331,-331,-329,-327,-325,-321,-316,-310,-304,-296];
const d70FY=[-47,-65,-94,-130,-173,-267,-691,-1744,-2294,-2451,-2545,-2590,-2623,-2660,-2686,-2710,-2724,-2733];
const d70L=[-2744,-2736,-2749,-2741,-2733,-2746,-2739,-2752,-2742,-2735,
-2747,-2740,-2731,-2745,-2738,-2750,-2743,-2737,-2748,-2741,
-2734,-2746,-2742,-2739,-2751,-2736,-2744,-2740,-2733,-2747,
-2743,-2738,-2749,-2732,-2745,-2741,-2737,-2748,-2744,-2735,
-2740,-2750,-2736,-2743,-2746,-2739,-2733,-2747,-2742,-2738,
-2745,-2741,-2734,-2749,-2737,-2744,-2740,-2746,-2731,-2743,
-2739,-2748,-2742,-2745,-2736,-2741,-2747,-2752];
const d90U=[11,-4,6,16,-7,2,9,-2,13,-9,4,-5,8,1,-11,7,-3,12,-6,3,-1,9,-8,5,-4,-10,-16,-25,-35];
const d90FX=[-290,-283,-276,-274,-272,-271,-268,-266,-265,-262,-258,-254,-250,-244,-237,-231,-225,-216,-208];
const d90FY=[-40,-55,-94,-130,-188,-377,-1068,-2027,-2357,-2467,-2561,-2605,-2639,-2668,-2693,-2712,-2724,-2730,-2735];
const d90L=[-2741,-2748,-2735,-2744,-2739,-2751,-2733,-2746,-2742,-2737,
-2745,-2740,-2749,-2731,-2743,-2738,-2747,-2736,-2744,-2750,
-2739,-2734,-2746,-2742,-2737,-2748,-2741,-2745,-2732,-2743,
-2740,-2747,-2736,-2749,-2744,-2738,-2751,-2735,-2742,-2746,
-2733,-2743,-2739,-2748,-2741,-2737,-2745,-2740,-2750,-2744,
-2736,-2742,-2815,-2747];
const d110U=[8,-3,13,-6,4,10,-9,2,7,-1,15,-5,3,-8,11,0,-4,9,-7,5,12,-2,-10,6,-3,8,-6,1,10,-8,-2,-12,-5,-15,-20,-25];
const d110FX=[-225,-218,-212,-207,-204,-202,-201,-201,-200,-200,-198,-195,-191,-187,-183,-177,-170,-162,-154];
const d110FY=[-31,-38,-47,-55,-63,-173,-283,-691,-1769,-2278,-2435,-2529,-2608,-2645,-2670,-2695,-2711,-2725,-2733];
const d110L=[-2743,-2737,-2749,-2740,-2746,-2732,-2745,-2739,-2751,-2736,
-2744,-2741,-2735,-2748,-2738,-2750,-2742,-2734,-2747,-2740,
-2745,-2733,-2744,-2739,-2749,-2737,-2743,-2746,-2731,-2741,
-2748,-2736,-2744,-2740,-2752,-2738,-2745,-2742,-2735,-2747,
-2741,-2749,-2744];
const d130U=[30,18,25,9,14,-3,21,6,-8,12,2,17,-5,8,-2,13,4,-9,10,-4,15,1,-7,11,-1,6,-10,9,3,-6,12,-3,5,-8,7,0,-11,4,-6,-2,-14,-20];
const d130FX=[-160,-152,-145,-141,-138,-137,-134,-133,-131,-130,-129,-127,-124,-120,-116,-110,-104,-97,-90];
const d130FY=[-31,-45,-63,-110,-150,-188,-408,-1249,-2097,-2404,-2498,-2545,-2576,-2612,-2639,-2665,-2690,-2715,-2733];
const d130L=[-2739,-2746,-2734,-2744,-2750,-2741,-2737,-2748,-2733,-2745,
-2742,-2736,-2749,-2740,-2747,-2731,-2744,-2739,-2751,-2743,
-2738,-2745,-2741,-2735,-2748,-2742,-2746,-2740,-2744,-2737,
-2747];

// ---------- styles ----------
const seriesColors = ['#670748','#ff0000','#ffa500','#008b00','#40e0d0','#0000ff','#7221bc'];
const seriesMarkers = ['triangle','triangle','rectRot','rect','circle','triangle','triangle'];
const markerRotation = [180,0,0,0,0,90,270];
const markerScale = [1,1,0.9,1.15,0.8,1,1];

// a profile = flat part before the front (on the sampling rows), front points, flat part after the front
function profile(U, FX, FY, L, U2, L2) {
  const pts = [];
  const x0 = FX[0], x1 = FX[FX.length - 1];
  const addRow = (grid, Up, Lp) => {
    Up.forEach((y, i) => { if (i < grid.length && grid[i] < x0) pts.push({x: grid[i], y: y}); });
    const s = grid.findIndex(x => x > x1);
    Lp.forEach((y, i) => { if (s + i < grid.length) pts.push({x: grid[s + i], y: y}); });
  };
  addRow(gridX, U, L);
  if (U2) addRow(gridXh, U2, L2);
  FX.forEach((x, i) => pts.push({x: x, y: FY[i]}));
  pts.sort((p, q) => p.x - q.x);
  return pts;
}

function drawMarker(ctx, style, rot, r, x, y) {
  ctx.beginPath();
  if (style === 'circle') { ctx.arc(x, y, r, 0, 2 * Math.PI); }
  else if (style === 'triangle') {
    let a = rot * Math.PI / 180;
    ctx.moveTo(x + Math.sin(a) * r, y - Math.cos(a) * r);
    a += 2 * Math.PI / 3; ctx.lineTo(x + Math.sin(a) * r, y - Math.cos(a) * r);
    a += 2 * Math.PI / 3; ctx.lineTo(x + Math.sin(a) * r, y - Math.cos(a) * r);
    ctx.closePath();
  } else if (style === 'rect') { const s = Math.SQRT1_2 * r; ctx.rect(x - s, y - s, 2 * s, 2 * s); }
  else { ctx.moveTo(x - r, y); ctx.lineTo(x, y - r); ctx.lineTo(x + r, y); ctx.lineTo(x, y + r); ctx.closePath(); }
  ctx.fill();
}

function framePlugin(cfg) {
  return {
    id: 'frameTicks',
    afterDatasetsDraw(chart) {
      const ctx = chart.ctx, a = chart.chartArea, xs = chart.scales.x, ys = chart.scales.y;
      ctx.save();
      ctx.strokeStyle = '#2a2a2a';
      ctx.lineWidth = 1.3;
      ctx.beginPath();
      for (let k = Math.ceil(xs.min / 50); k * 50 <= xs.max; k++) {
        const v = k * 50, p = Math.round(xs.getPixelForValue(v)) + 0.5;
        const len = (v % 200 === 0) ? 9 : 5;
        ctx.moveTo(p, a.bottom); ctx.lineTo(p, a.bottom - len);
        ctx.moveTo(p, a.top); ctx.lineTo(p, a.top + len);
      }
      for (let k = Math.ceil(ys.min / cfg.yMinor); k * cfg.yMinor <= ys.max; k++) {
        const v = k * cfg.yMinor, p = Math.round(ys.getPixelForValue(v)) + 0.5;
        const len = (v % cfg.yMajor === 0) ? 9 : 5;
        ctx.moveTo(a.left, p); ctx.lineTo(a.left + len, p);
        ctx.moveTo(a.right, p); ctx.lineTo(a.right - len, p);
      }
      ctx.stroke();
      ctx.lineWidth = 2;
      ctx.strokeRect(a.left, a.top, a.right - a.left, a.bottom - a.top);
      ctx.restore();
    }
  };
}

function legendPlugin(cfg) {
  return {
    id: 'seriesLegend',
    afterDraw(chart) {
      const ctx = chart.ctx, L = cfg.legend;
      ctx.save();
      ctx.fillStyle = '#fff';
      ctx.fillRect(L.x, L.y, L.w, L.h);
      ctx.strokeStyle = '#2a2a2a';
      ctx.lineWidth = 1.6;
      ctx.strokeRect(L.x, L.y, L.w, L.h);
      ctx.font = '15.5px "Liberation Sans", Arial, sans-serif';
      ctx.textBaseline = 'middle';
      ctx.textAlign = 'left';
      seriesLabels.forEach((lab, i) => {
        const yy = L.y + 12.6 + i * 20;
        ctx.fillStyle = seriesColors[i];
        ctx.strokeStyle = seriesColors[i];
        if (cfg.line) {
          ctx.lineWidth = 1.3;
          ctx.beginPath(); ctx.moveTo(L.x + 6, yy); ctx.lineTo(L.x + 29, yy); ctx.stroke();
          drawMarker(ctx, seriesMarkers[i], markerRotation[i], 3 * markerScale[i], L.x + 6, yy);
          drawMarker(ctx, seriesMarkers[i], markerRotation[i], 3 * markerScale[i], L.x + 29, yy);
        } else {
          drawMarker(ctx, seriesMarkers[i], markerRotation[i], 2.8 * markerScale[i], L.x + 15, yy);
        }
        ctx.fillStyle = '#1a1a1a';
        ctx.fillText(lab, L.x + (cfg.line ? 35.5 : 31.5), yy + 1);
      });
      ctx.restore();
    }
  };
}

function makePanel(cfg) {
  const W = 598, H = 464;
  const datasets = cfg.series.map((pts, i) => ({
    label: seriesLabels[i],
    data: pts,
    showLine: cfg.line,
    borderColor: seriesColors[i],
    backgroundColor: seriesColors[i],
    borderWidth: cfg.line ? 1.2 : 0,
    pointStyle: seriesMarkers[i],
    pointRotation: markerRotation[i],
    pointRadius: cfg.radius * markerScale[i],
    pointBackgroundColor: seriesColors[i],
    pointBorderWidth: 0,
    pointHoverRadius: 0,
    order: 6 - i
  }));
  const tickFont = {family: '"Liberation Sans", Arial, sans-serif', size: 15.5};
  new Chart(document.getElementById(cfg.id), {
    type: 'scatter',
    data: {datasets: datasets},
    options: {
      responsive: false, animation: false, devicePixelRatio: 1, events: [],
      layout: {padding: {left: 0, top: cfg.area.t, right: W - cfg.area.r, bottom: 0}},
      scales: {
        x: {
          type: 'linear', position: 'bottom', min: -600, max: 600,
          afterFit: s => { s.height = H - cfg.area.b; },
          afterBuildTicks: s => { s.ticks = xTickValues.map(v => ({value: v})); },
          grid: {display: false, drawTicks: false}, border: {display: false},
          ticks: {autoSkip: false, maxRotation: 0, padding: 4, color: '#1a1a1a', font: tickFont,
            callback: v => { const k = xTickValues.indexOf(Math.round(v)); return k >= 0 ? xTickLabels[k] : ''; }}
        },
        y: {
          type: 'linear', position: 'left', min: cfg.ymin, max: cfg.ymax,
          afterFit: s => { s.width = cfg.area.l; },
          afterBuildTicks: s => { s.ticks = cfg.yTicks.map(v => ({value: v})); },
          grid: {display: false, drawTicks: false}, border: {display: false},
          ticks: {autoSkip: false, padding: 4, color: '#1a1a1a', font: tickFont,
            callback: v => String(Math.round(v))}
        }
      },
      plugins: {legend: {display: false}, tooltip: {enabled: false}}
    },
    plugins: [framePlugin(cfg), legendPlugin(cfg)]
  });
}

makePanel({id: 'ca', ymin: -200, ymax: 30, yTicks: yTicksA, yMajor: 50, yMinor: 10, line: false, radius: 3.7,
  area: {l: 82, r: 562, t: 46, b: 385},
  legend: {x: 440.5, y: 70.5, w: 85, h: 146},
  series: [profile(a10U,a10FX,a10FY,a10L,a10U2,a10L2), profile(a30U,a30FX,a30FY,a30L,a30U2,a30L2),
           profile(a50U,a50FX,a50FY,a50L,a50U2,a50L2), profile(a70U,a70FX,a70FY,a70L,a70U2,a70L2),
           profile(a90U,a90FX,a90FY,a90L,a90U2,a90L2), profile(a110U,a110FX,a110FY,a110L,a110U2,a110L2),
           profile(a130U,a130FX,a130FY,a130L,a130U2,a130L2)]});
makePanel({id: 'cb', ymin: -600, ymax: 20, yTicks: yTicksB, yMajor: 100, yMinor: 20, line: false, radius: 3.7,
  area: {l: 96, r: 575, t: 46, b: 385},
  legend: {x: 454.5, y: 70.5, w: 85, h: 146},
  series: [profile(b10U,b10FX,b10FY,b10L), profile(b30U,b30FX,b30FY,b30L), profile(b50U,b50FX,b50FY,b50L),
           profile(b70U,b70FX,b70FY,b70L), profile(b90U,b90FX,b90FY,b90L), profile(b110U,b110FX,b110FY,b110L),
           profile(b130U,b130FX,b130FY,b130L)]});
makePanel({id: 'cc', ymin: -2200, ymax: 200, yTicks: yTicksC, yMajor: 500, yMinor: 100, line: false, radius: 3.5,
  area: {l: 82, r: 562, t: 69, b: 409},
  legend: {x: 440.5, y: 94.5, w: 85, h: 146},
  series: [profile(c10U,c10FX,c10FY,c10L), profile(c30U,c30FX,c30FY,c30L), profile(c50U,c50FX,c50FY,c50L),
           profile(c70U,c70FX,c70FY,c70L), profile(c90U,c90FX,c90FY,c90L), profile(c110U,c110FX,c110FY,c110L),
           profile(c130U,c130FX,c130FY,c130L)]});
makePanel({id: 'cd', ymin: -3000, ymax: 200, yTicks: yTicksD, yMajor: 500, yMinor: 100, line: true, radius: 3.2,
  area: {l: 96, r: 575, t: 69, b: 409},
  legend: {x: 454.5, y: 94.5, w: 87, h: 146},
  series: [profile(d10U,d10FX,d10FY,d10L), profile(d30U,d30FX,d30FY,d30L), profile(d50U,d50FX,d50FY,d50L),
           profile(d70U,d70FX,d70FY,d70L), profile(d90U,d90FX,d90FY,d90L), profile(d110U,d110FX,d110FY,d110L),
           profile(d130U,d130FX,d130FY,d130L)]});
</script>
</body></html>
